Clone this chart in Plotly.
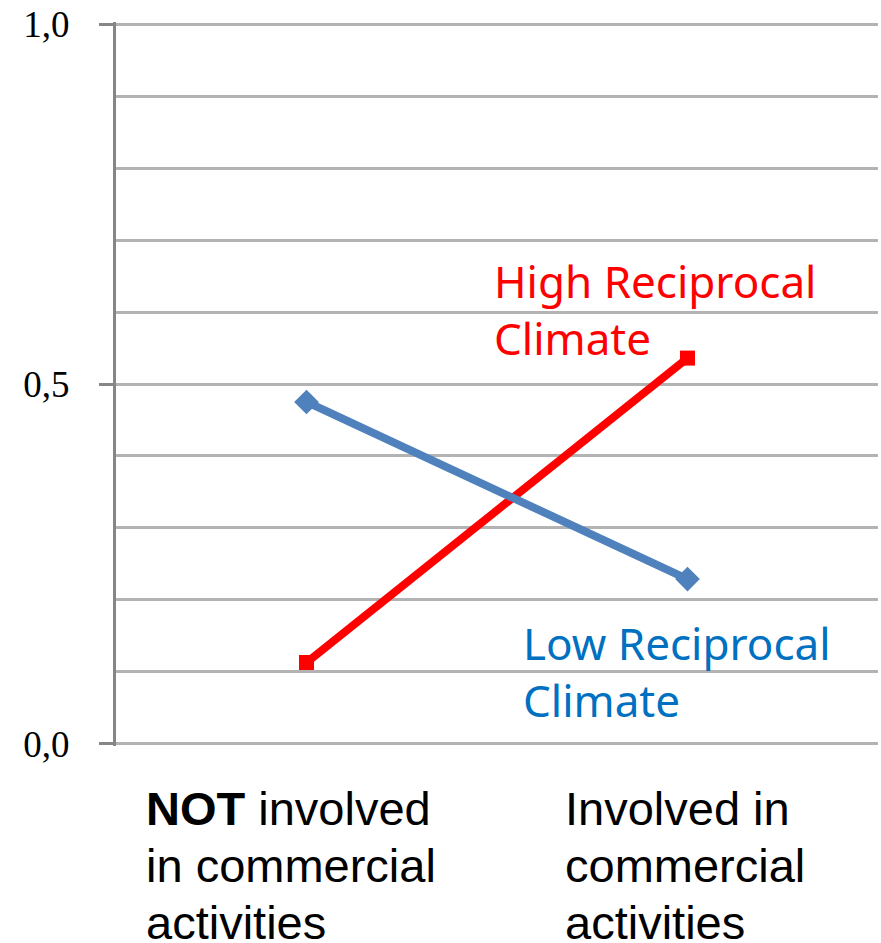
import plotly.graph_objects as go

# Categories on the x axis (index positions 0 and 1)
categories = [0, 1]
category_labels = [
    ["<b>NOT</b> involved", "in commercial", "activities"],
    ["Involved in", "commercial", "activities"],
]

# Mean values per group
high_reciprocal = [0.113, 0.536]
low_reciprocal = [0.475, 0.229]

series_names = ["High Reciprocal<br>Climate", "Low Reciprocal<br>Climate"]

y_tickvals = [0.0, 0.5, 1.0]
y_ticktext = ["0,0", "0,5", "1,0"]

RED = "#ff0000"
BLUE = "#4f81bd"
BLUE_TEXT = "#0070c0"
GRID = "#b3b3b3"
AXIS = "#868686"

fig = go.Figure()

fig.add_trace(go.Scatter(
    x=categories, y=high_reciprocal, mode="lines+markers",
    line=dict(color=RED, width=8),
    marker=dict(symbol="square", size=15, color=RED),
    showlegend=False, hoverinfo="skip",
))
fig.add_trace(go.Scatter(
    x=categories, y=low_reciprocal, mode="lines+markers",
    line=dict(color=BLUE, width=8),
    marker=dict(symbol="diamond", size=19, color=BLUE),
    showlegend=False, hoverinfo="skip",
))

# Series labels next to the lines
fig.add_annotation(
    x=categories[1], y=high_reciprocal[1], xref="x", yref="y",
    text=series_names[0], showarrow=False, align="left",
    xanchor="left", yanchor="bottom", xshift=-196, yshift=-12,
    font=dict(family="Noto Sans", size=44, color=RED),
)
fig.add_annotation(
    x=categories[1], y=low_reciprocal[1], xref="x", yref="y",
    text=series_names[1], showarrow=False, align="left",
    xanchor="left", yanchor="top", xshift=-167, yshift=-32,
    font=dict(family="Noto Sans", size=44, color=BLUE_TEXT),
)

# Category labels below the plot: left-aligned, one annotation per line
LINE_STEP = 57
for cat, lines, xshift in zip(categories, category_labels, [-163, -125]):
    for i, line in enumerate(lines):
        fig.add_annotation(
            x=cat, y=0, xref="x", yref="paper",
            text=line, showarrow=False, align="left",
            xanchor="left", yanchor="top",
            xshift=xshift, yshift=-34 - LINE_STEP * i,
            font=dict(family="Liberation Sans", size=47, color="#000000"),
        )

fig.update_xaxes(
    range=[-0.5, 1.5], showgrid=False, zeroline=False,
    showline=False, showticklabels=False, ticks="",
)
fig.update_yaxes(
    range=[-0.003, 1.003], tickvals=y_tickvals, ticktext=y_ticktext,
    showgrid=True, gridcolor=GRID, gridwidth=3,
    zeroline=False, showline=True, linecolor=AXIS, linewidth=3,
    ticks="outside", ticklen=14, tickcolor=AXIS, tickwidth=3,
    ticklabelstandoff=22,
    tickfont=dict(family="Liberation Serif", size=37, color="#000000"),
    minor=dict(dtick=0.1, showgrid=True, gridcolor=GRID, gridwidth=3, ticks=""),
)

fig.update_layout(
    width=881, height=943,
    margin=dict(l=116, r=3, t=22, b=197),
    plot_bgcolor="white", paper_bgcolor="white",
)

fig.write_html("out.html")
